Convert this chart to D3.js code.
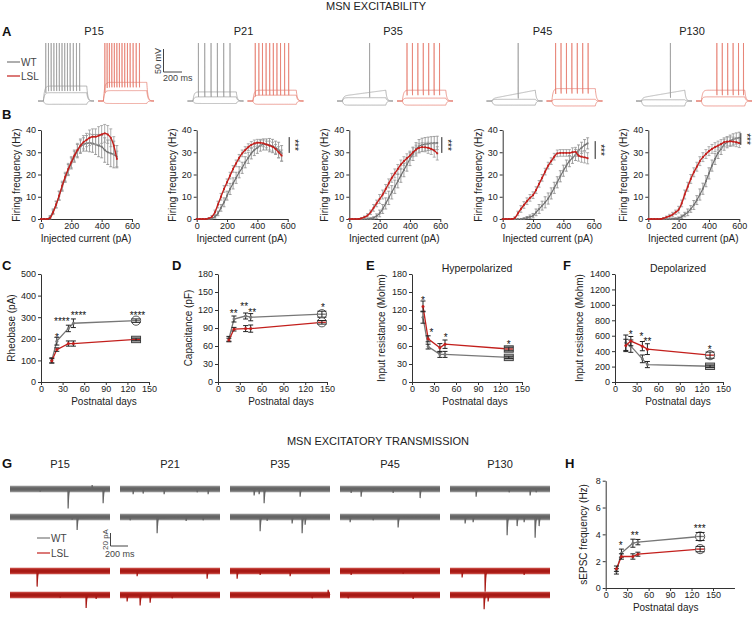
<!DOCTYPE html>
<html><head><meta charset="utf-8">
<script src="https://cdn.jsdelivr.net/npm/d3@7"></script>
<style>body{margin:0;background:#fff}</style>
</head><body><script>
// ---------------- DATA ----------------
const ages = ["P15","P21","P35","P45","P130"];

// Panel A: sweep levels (mV relative to rest) and spike times (ms after step onset)
const aHyperWT = [-8,-6,-10,-10,-12];
const aSubWT = [20,10,8,4,3];
const aSupraStartWT = [36,22,12,6,8];
const aSupraEndWT = [36,22,26,26,26];
const aSpikesWT = [[25,55,85,115,145,175,205,235,265,295,330,365,400],[60,130,200,270,340,410],[300],[290],[320]];
const aHyperLSL = [-6,-8,-10,-12,-12];
const aSubLSL = [25,14,7,4,10];
const aSupraLSL = [45,26,26,30,26];
const aSpikesLSL = [[15,40,65,92,120,148,176,205,235,265,295,328,362,398],[25,65,105,145,185,225,265,305,350,395],[50,110,170,230,290,350,410],[40,100,160,220,280,340,400],[170,230,290,350,410,465]];

// Panel B: firing frequency (Hz) vs injected current (pA)
const currentSteps = [0,20,40,60,80,100,120,140,160,180,200,220,240,260,280,300,320,340,360,380,400,420,440,460,480,500,520,540,560,580,600];
const bWT = [
 [0,0,0,1,3.5,6.5,10.5,14.5,18.5,22,25,28,30.5,32.5,33.5,34,34.2,34,33.5,33,32.5,31,30,29.5,29,28],
 [0,0,0,0,0,0.3,1,2.5,5,7.5,10.5,13.5,16,18.5,21,23,25.5,27.5,29.5,31,32,33,33.5,33.5,33.2,32.8,32,31,29.5],
 [0,0,0,0,0,0,0,0.2,0.5,1.3,2.5,4.5,7,9.5,12,14.5,17,19.5,22,24.5,27,29.3,31.3,32.7,33.3,33.6,33.8,34,34.1,34.2],
 [0,0,0,0,0,0,0,0.2,0.6,1,1.5,3,4.5,6,7.5,9.2,11.5,14,16.5,19.2,21.7,24,26,27.5,28.8,30.8,32,33.2,34],
 [0,0,0,0,0,0,0,0,0.1,0.2,0.4,1,2,3,4.5,6.3,8.5,11,13.6,17,20.5,24,27,29.7,31.5,33.4,34.5,35.2,35.8,36.2,36.5]
];
const bLSL = [
 [0,0,0,0.5,3,6.5,10.5,15,19,22.5,25.5,28.5,31,33,34.5,35.5,36.5,37,37,37.5,38,38.5,38,36.5,33,27],
 [0,0,0,0,0.3,1,3,6.5,10,13.5,16.5,19.5,22.5,25,27.5,29.5,31,32.3,33.3,34,34.3,34.3,34,33.5,33,32.5,31.5,30,28.5],
 [0,0,0,0,0.3,0.8,1.6,3,5,7,9,11,13.5,16,18.5,20.5,22.5,24.5,26,27.3,28.5,30,31.2,32,32.3,32.2,32,31.5,30.8,29.5],
 [0,0,0,0,0.5,2.5,4.5,6.3,8,9.5,10.7,13,15.8,18.5,21.3,24,26,28,29.5,29.7,29.7,29.7,29.7,30,30.2,28.5,28,27.7,27.3],
 [0,0,0,0,0,0.3,0.8,1.3,2,3,4.2,7,11,14.5,18,21,23.5,26,27.8,29.2,30.5,31.5,32.3,33,33.7,34.5,34.8,34.9,34.8,34.5,34.1]
];
const bWTerr = [
 [0,0,0,0.5,1,1.5,2,2,2,2.5,2.5,2.5,3,3,3,3.5,4,4,4.5,5,5,5.5,5.5,6,6,5],
 [0,0,0,0,0,0.3,0.6,1,1.5,2,2,2.5,2.5,2.5,2.5,2.5,2.5,2.5,2.5,2.5,2.5,2.5,2.5,2.5,3,3,3,3.5,3.5],
 [0,0,0,0,0,0,0,0.3,0.5,1,1.5,2,2.5,3,3,3,3,3,3,3,3,3,3,3,3,3,3,3,3,3],
 [0,0,0,0,0,0,0,0.3,0.5,0.8,1,1.5,2,2,2.5,2.5,2.5,2.5,2.5,2.5,2.5,2.5,2.5,2.5,2.5,2.5,2.5,2.5,2.5],
 [0,0,0,0,0,0,0,0,0.2,0.3,0.5,0.8,1,1.5,1.5,2,2,2.5,2.5,2.5,2.5,2.5,2.5,2.5,2.5,2.5,2.5,2.5,2.5,2.5,2.5]
];
const bLSLerr = [
 [0,0,0,0.5,1,1.5,2,2,2,2.5,2.5,2.5,3,3,3,3,3.5,3.5,3.5,4,4,4,4,4,4,3.5],
 [0,0,0,0,0.3,0.5,1,1.5,1.5,1.5,1.5,1.5,1.5,1.5,1.5,1.5,1.5,1.5,1.5,1.5,1.5,1.5,1.5,1.5,2,2,2,2.5,2.5],
 [0,0,0,0,0.3,0.5,0.8,1,1.5,1.5,2,2,2,2,2,2,2,2,2,2,2,2,2,2,2,2,2.5,2.5,3,3],
 [0,0,0,0,0.5,1,1.5,1.5,1.5,1.5,1.5,1.5,1.5,1.5,1.5,1.5,1.5,1.5,1.5,1.5,1.5,1.5,1.5,2,2,2.5,2.5,2.5,2.5],
 [0,0,0,0,0,0.3,0.5,0.8,1,1,1.5,1.5,2,2,2,2,2,2,2,2,2,2,2,2,2,2,2,2,2,2,2]
];
const bSig = [null,[36.8,29.7],[36.8,29.7],[35,27],[38.6,33.3]];
const bSigText = [null,"***","***","***","***"];

// Panels C–F, H: mean ± SEM vs postnatal day
const days = [15,22,38,45,132];
const daysD = [15,22,38,45,143];
const rheoWT = [100,189,248,272,284], rheoWTerr = [12,18,15,20,8];
const rheoLSL = [98,150,178,178,197], rheoLSLerr = [10,8,12,12,6];
const rheoStars = [[22,215,"*"],[29,290,"****"],[52,316,"****"],[134,318,"****"]];
const capWT = [72,105,110,108,113], capWTerr = [4,5,5,6,5];
const capLSL = [70,88,89,89,99.5], capLSLerr = [3,3,5,6,3];
const capStars = [[21.6,117,"**"],[36,129,"**"],[47,119,"**"],[144.5,127,"*"]];
const hypWT = [108,59,46,46,41], hypWTerr = [10,4,5,5,2];
const hypLSL = [126,72,57,63,55], hypLSLerr = [9,5,7,7,3];
const hypStars = [[15,140,"*"],[26.5,85.5,"*"],[46,78,"*"],[131.7,66,"*"]];
const depWT = [509,465,300,226,204], depWTerr = [100,80,50,40,15];
const depLSL = [474,530,465,426,348], depLSLerr = [80,60,60,70,40];
const depStars = [[21.7,639,"*"],[36.9,613,"*"],[45,557,"**"],[131.5,448,"*"]];
const epscWT = [1.24,2.6,3.34,3.42,3.84], epscWTerr = [0.2,0.3,0.3,0.2,0.3];
const epscLSL = [1.44,2.35,2.35,2.52,2.9], epscLSLerr = [0.2,0.2,0.2,0.15,0.2];
const epscStars = [[21,3.29,"*"],[40.5,4.05,"**"],[131.4,4.58,"***"]];

// Panel G: sEPSC events [time ms, amplitude pA] per age
const gEvWT1 = [[[330,-4],[638,-30],[902,6],[1023,-22]],[[143,-8],[253,-7],[484,-8],[847,-5],[968,-8]],[[264,-10],[319,-8],[374,-22],[770,-12]],[[121,-6],[231,-12],[583,-6],[880,-14]],[[286,-12],[649,-5],[880,-10],[946,-5]]];
const gEvWT2 = [[[682,-4],[737,-20]],[[110,-5],[407,-25],[726,-6],[913,-5]],[[330,-22],[407,-6],[682,-10],[792,-25],[825,-12]],[[110,-8],[363,-5],[638,-16]],[[165,-10],[253,-8],[627,-28],[737,-14],[814,-8],[935,-32],[979,-14]]];
const gEvLSL1 = [[[297,-24]],[[187,-8],[957,-12]],[[77,-12],[330,-6],[660,-8]],[[121,-6],[693,-4]],[[132,-10],[385,-32],[814,-6]]];
const gEvLSL2 = [[[550,-4],[836,-20],[946,-6]],[[77,-10],[220,-16],[330,-12],[572,-5]],[[902,-5],[1078,8]],[[88,-5],[803,-6]],[[374,-22],[418,-10]]];

// ---------------- DRAWING ----------------
const W = 752, H = 618;
const FONT = '"Liberation Sans", Arial, Helvetica, sans-serif';
const svg = d3.select("body").append("svg").attr("width", W).attr("height", H)
  .style("font-family", FONT);
const C_WT_TR = "#999999", C_LSL_TR = "#e5796a";
const C_WT = "#777777", C_LSL = "#c31f1c", C_AX = "#333";

function txt(x, y, s, o = {}) {
  const t = svg.append("text").attr("x", x).attr("y", y).text(s)
    .attr("font-size", o.size || 10).attr("fill", o.fill || "#222")
    .attr("text-anchor", o.anchor || "start");
  if (o.bold) t.attr("font-weight", "bold");
  if (o.rot) t.attr("transform", `rotate(${o.rot},${x},${y})`);
  return t;
}
function styleAxis(a, fs) {
  a.select(".domain").attr("stroke", C_AX).attr("stroke-width", 1);
  a.selectAll(".tick line").attr("stroke", C_AX);
  a.selectAll(".tick text").attr("fill", "#222").attr("font-size", fs || 9).attr("font-family", FONT);
}

// Titles & panel letters
txt(376, 10, "MSN EXCITABILITY", {size: 11, anchor: "middle"});
txt(378, 445, "MSN EXCITATORY TRANSMISSION", {size: 11, anchor: "middle"});
[["A",2,36],["B",2,119],["C",2,270],["D",172,270],["E",366,270],["F",563,270],["G",2,468],["H",565,468]]
  .forEach(d => txt(d[1], d[2], d[0], {size: 13, bold: true, fill: "#111"}));

// ----- Panel A -----
const aCenter = d3.scalePoint().domain(ages).range([94, 692]);
const tA = d3.scaleLinear().domain([-60, 560]).range([0, 56]);
const vA = d3.scaleLinear().domain([0, 140]).range([101, 43]);
const STEP = 480, PEAK = 140;
function sweep(levelFn, spikes) {
  const tau = 12;
  const V = t => t < 0 ? 0 : (t <= STEP ? levelFn(t) * (1 - Math.exp(-t / tau)) : levelFn(STEP) * Math.exp(-(t - STEP) / tau));
  const sp = spikes ? spikes.slice() : [];
  const pts = [];
  for (let t = -60; t <= 560; t += 2) {
    while (sp.length && sp[0] <= t) {
      const ts = sp.shift(), b = V(ts);
      pts.push([ts, b], [ts + 0.8, PEAK], [ts + 2, b - 12]);
    }
    pts.push([t, V(t)]);
  }
  return pts;
}
function drawCell(x0, color, hyper, sub, s0, s1, spikes) {
  const g = svg.append("g").attr("transform", `translate(${x0},0)`);
  const line = d3.line().x(d => tA(d[0])).y(d => vA(d[1]));
  const sweeps = [sweep(() => hyper), sweep(() => sub), sweep(t => s0 + (s1 - s0) * t / STEP, spikes)];
  sweeps.forEach(p => g.append("path").attr("d", line(p)).attr("fill", "none")
    .attr("stroke", color).attr("stroke-width", 0.7));
}
ages.forEach((a, i) => {
  const c = aCenter(a);
  txt(c, 35, a, {size: 11, anchor: "middle"});
  drawCell(c - 56, C_WT_TR, aHyperWT[i], aSubWT[i], aSupraStartWT[i], aSupraEndWT[i], aSpikesWT[i]);
  drawCell(c + 4, C_LSL_TR, aHyperLSL[i], aSubLSL[i], aSupraLSL[i], aSupraLSL[i], aSpikesLSL[i]);
});
// legend A
svg.append("line").attr("x1", 7).attr("x2", 20).attr("y1", 62).attr("y2", 62).attr("stroke", "#777").attr("stroke-width", 1.2);
svg.append("line").attr("x1", 7).attr("x2", 20).attr("y1", 76).attr("y2", 76).attr("stroke", C_LSL).attr("stroke-width", 1.2);
txt(21, 65.5, "WT", {size: 10, fill: "#444"});
txt(21, 79.5, "LSL", {size: 10, fill: "#444"});
// scale bar A
svg.append("path").attr("d", "M163.5,49V72H182").attr("fill", "none").attr("stroke", "#444").attr("stroke-width", 1);
txt(161, 61, "50 mV", {size: 9, anchor: "middle", rot: -90, fill: "#444"});
txt(163, 81, "200 ms", {size: 9, fill: "#444"});

// ----- Panel B -----
const bX0 = [41, 196.7, 349.3, 502.7, 648.3];
bX0.forEach((x0, i) => {
  const g = svg.append("g");
  const x = d3.scaleLinear().domain([0, 600]).range([x0, x0 + 91]);
  const y = d3.scaleLinear().domain([0, 40]).range([219, 130]);
  const ay = g.append("g").attr("transform", `translate(${x0},0)`)
    .call(d3.axisLeft(y).tickValues([0,10,20,30,40]).tickSize(3).tickSizeOuter(0).tickPadding(2));
  styleAxis(ay, 9);
  const ax = g.append("g").attr("transform", `translate(0,219)`)
    .call(d3.axisBottom(x).tickValues([0,200,400,600]).tickSize(3).tickSizeOuter(0).tickPadding(1));
  styleAxis(ax, 9);
  txt(x0 - 21, 175, "Firing frequency  (Hz)", {size: 10, anchor: "middle", rot: -90});
  txt(x0 + 45, 242, "Injected current (pA)", {size: 10, anchor: "middle"});
  const series = (vals, errs, lineColor, lw, barColor, dotShape) => {
    const pts = vals.map((v, k) => [currentSteps[k], v, errs[k]]);
    g.append("g").selectAll("path").data(pts.filter(d => d[2] > 0)).enter().append("path")
      .attr("d", d => `M${x(d[0])},${y(d[1] - d[2])}V${y(d[1] + d[2])}M${x(d[0]) - 1.5},${y(d[1] + d[2])}h3M${x(d[0]) - 1.5},${y(d[1] - d[2])}h3`)
      .attr("stroke", barColor).attr("stroke-width", 0.8).attr("fill", "none");
    g.append("path").attr("d", d3.line().curve(d3.curveMonotoneX).x(d => x(d[0])).y(d => y(d[1]))(pts))
      .attr("fill", "none").attr("stroke", lineColor).attr("stroke-width", lw);
    g.append("g").selectAll("rect").data(pts).enter().append("rect")
      .attr("x", d => x(d[0]) - 0.9).attr("y", d => y(d[1]) - 0.9).attr("width", 1.8).attr("height", 1.8)
      .attr("fill", dotShape);
  };
  series(bWT[i], bWTerr[i], "#6e6e6e", 1.2, "#8a8a8a", "#777");
  series(bLSL[i], bLSLerr[i], C_LSL, 1.4, "#9a9a9a", C_LSL);
  if (bSig[i]) {
    const bx = x(600) + 1.5;
    g.append("line").attr("x1", bx).attr("x2", bx).attr("y1", y(bSig[i][0])).attr("y2", y(bSig[i][1]))
      .attr("stroke", "#222").attr("stroke-width", 1);
    const my = (y(bSig[i][0]) + y(bSig[i][1])) / 2;
    txt(bx + 2, my, bSigText[i], {size: 10, anchor: "middle", rot: 90, fill: "#111"});
  }
});

// ----- Panels C–F, H -----
function agePlot(cfg) {
  const g = svg.append("g");
  const x = d3.scaleLinear().domain([0, 150]).range([cfg.x0, cfg.x0 + cfg.w150]);
  const y = d3.scaleLinear().domain(cfg.yDomain).range([cfg.yb, cfg.yt]);
  const ay = g.append("g").attr("transform", `translate(${cfg.x0},0)`)
    .call(d3.axisLeft(y).tickValues(cfg.yTicks).tickFormat(d3.format("d")).tickSize(3).tickSizeOuter(0).tickPadding(2));
  styleAxis(ay, 9);
  const xEnd = cfg.xEnd || 150;
  const xs = d3.scaleLinear().domain([0, xEnd]).range([cfg.x0, x(xEnd)]);
  const ax = g.append("g").attr("transform", `translate(0,${cfg.yb})`)
    .call(d3.axisBottom(xs).tickValues([0,30,60,90,120,150]).tickSize(3).tickSizeOuter(0).tickPadding(1));
  styleAxis(ax, 9);
  txt(cfg.ylx, (cfg.yb + cfg.yt) / 2, cfg.ylabel, {size: 10, anchor: "middle", rot: -90});
  txt(cfg.x0 + cfg.xlOff, cfg.xly, "Postnatal days", {size: 10, anchor: "middle"});
  if (cfg.title) txt(cfg.x0 + cfg.titleOff, 272, cfg.title, {size: 10.5, anchor: "middle"});
  const drawS = (vals, errs, color, lastShape) => {
    const pts = vals.map((v, k) => [cfg.days[k], v, errs[k]]);
    g.append("path").attr("d", d3.line().x(d => x(d[0])).y(d => y(d[1]))(pts))
      .attr("fill", "none").attr("stroke", color).attr("stroke-width", 1.3);
    pts.forEach((d, k) => {
      const px = x(d[0]), py = y(d[1]);
      const last = k === pts.length - 1;
      const cw = last ? 4.5 : 2.5;
      if (last) {
        if (lastShape === "circle") {
          g.append("circle").attr("cx", px).attr("cy", py).attr("r", 4.6).attr("fill", "#fff").attr("stroke", "#555").attr("stroke-width", 1);
        } else {
          g.append("rect").attr("x", px - 4.5).attr("y", py - 3.2).attr("width", 9).attr("height", 6.4)
            .attr("fill", "#bdbdbd").attr("stroke", "#444").attr("stroke-width", 1);
        }
        g.append("line").attr("x1", px - 4).attr("x2", px + 4).attr("y1", py).attr("y2", py).attr("stroke", color).attr("stroke-width", 1.3);
      }
      g.append("path")
        .attr("d", `M${px},${y(d[1] - d[2])}V${y(d[1] + d[2])}M${px - cw},${y(d[1] + d[2])}h${2 * cw}M${px - cw},${y(d[1] - d[2])}h${2 * cw}`)
        .attr("stroke", "#222").attr("stroke-width", 1).attr("fill", "none");
      if (!last) g.append("circle").attr("cx", px).attr("cy", py).attr("r", 1.5).attr("fill", color);
    });
  };
  drawS(cfg.wt, cfg.wtErr, C_WT, cfg.lastWT);
  drawS(cfg.lsl, cfg.lslErr, C_LSL, cfg.lastLSL);
  cfg.stars.forEach(s => txt(x(s[0]), y(s[1]) + 5.5, s[2], {size: 10, anchor: "middle", fill: "#111"}));
}
const baseCF = {yb: 382, yt: 274, xly: 405, xlOff: 63};
agePlot(Object.assign({}, baseCF, {x0: 41, w150: 108, yDomain: [0, 500], yTicks: [0,100,200,300,400,500], ylx: 15,
  ylabel: "Rheobase (pA)", days: days, wt: rheoWT, wtErr: rheoWTerr, lsl: rheoLSL, lslErr: rheoLSLerr, stars: rheoStars, lastWT: "circle", lastLSL: "square"}));
agePlot(Object.assign({}, baseCF, {x0: 218, w150: 109, yDomain: [0, 180], yTicks: [0,30,60,90,120,150,180], ylx: 192,
  ylabel: "Capacitance (pF)", days: daysD, wt: capWT, wtErr: capWTerr, lsl: capLSL, lslErr: capLSLerr, stars: capStars, lastWT: "circle", lastLSL: "circle"}));
agePlot(Object.assign({}, baseCF, {x0: 412, w150: 110, yDomain: [0, 180], yTicks: [0,30,60,90,120,150,180], ylx: 385,
  ylabel: "Input resistance (Mohm)", title: "Hyperpolarized", titleOff: 65, days: days, wt: hypWT, wtErr: hypWTerr, lsl: hypLSL, lslErr: hypLSLerr, stars: hypStars, lastWT: "square", lastLSL: "square"}));
agePlot(Object.assign({}, baseCF, {x0: 615, w150: 108, yDomain: [0, 1400], yTicks: [0,200,400,600,800,1000,1200,1400], ylx: 583,
  ylabel: "Input resistance (Mohm)", title: "Depolarized", titleOff: 63, days: days, wt: depWT, wtErr: depWTerr, lsl: depLSL, lslErr: depLSLerr, stars: depStars, lastWT: "square", lastLSL: "circle"}));
agePlot({x0: 605.7, w150: 107.3, xEnd: 180, yb: 588, yt: 480.7, yDomain: [0, 8], yTicks: [0,2,4,6,8], ylx: 587, xly: 611, xlOff: 60,
  ylabel: "sEPSC frequency (Hz)", days: days, wt: epscWT, wtErr: epscWTerr, lsl: epscLSL, lslErr: epscLSLerr, stars: epscStars, lastWT: "circle", lastLSL: "circle"});

// ----- Panel G -----
const gCell = d3.scaleBand().domain(ages).range([10, 550]).paddingInner(0.0909);
const tG = d3.scaleLinear().domain([0, 1100]).range([0, 100]);
const PA = 0.65;
function gTrace(x0, rowY, events, outer, inner) {
  const g = svg.append("g").attr("transform", `translate(${x0},0)`);
  g.append("line").attr("x1", 0).attr("x2", 100).attr("y1", rowY).attr("y2", rowY).attr("stroke", outer).attr("stroke-width", 6.5);
  g.append("line").attr("x1", 0).attr("x2", 100).attr("y1", rowY).attr("y2", rowY).attr("stroke", inner).attr("stroke-width", 3.5);
  const pts = [[0, 0]];
  events.slice().sort((a, b) => a[0] - b[0]).forEach(e => {
    pts.push([e[0] - 1, 0], [e[0] + 1.5, e[1]]);
    for (let k = 1; k <= 6; k++) pts.push([e[0] + 1.5 + k * 3, e[1] * Math.exp(-k * 3 / 6)]);
  });
  pts.push([1100, 0]);
  g.append("path").attr("d", d3.line().x(d => tG(d[0])).y(d => rowY - d[1] * PA)(pts))
    .attr("fill", "none").attr("stroke", inner).attr("stroke-width", 1.2);
}
ages.forEach((a, i) => {
  const x0 = gCell(a);
  txt(x0 + 50, 468, a, {size: 11, anchor: "middle"});
  gTrace(x0, 489, gEvWT1[i], "#8a8a8a", "#656565");
  gTrace(x0, 517, gEvWT2[i], "#8a8a8a", "#656565");
  gTrace(x0, 571, gEvLSL1[i], "#c4433d", "#a81a15");
  gTrace(x0, 595, gEvLSL2[i], "#c4433d", "#a81a15");
});
svg.append("line").attr("x1", 37).attr("x2", 50).attr("y1", 538).attr("y2", 538).attr("stroke", "#777").attr("stroke-width", 1.2);
svg.append("line").attr("x1", 37).attr("x2", 50).attr("y1", 553).attr("y2", 553).attr("stroke", C_LSL).attr("stroke-width", 1.2);
txt(51, 541.5, "WT", {size: 10, fill: "#444"});
txt(51, 556.5, "LSL", {size: 10, fill: "#444"});
svg.append("path").attr("d", "M110.5,533V546H128").attr("fill", "none").attr("stroke", "#444").attr("stroke-width", 1);
txt(107.5, 539.5, "20 pA", {size: 8, anchor: "middle", rot: -90, fill: "#444"});
txt(105, 557, "200 ms", {size: 9, fill: "#444"});
</script></body></html>
